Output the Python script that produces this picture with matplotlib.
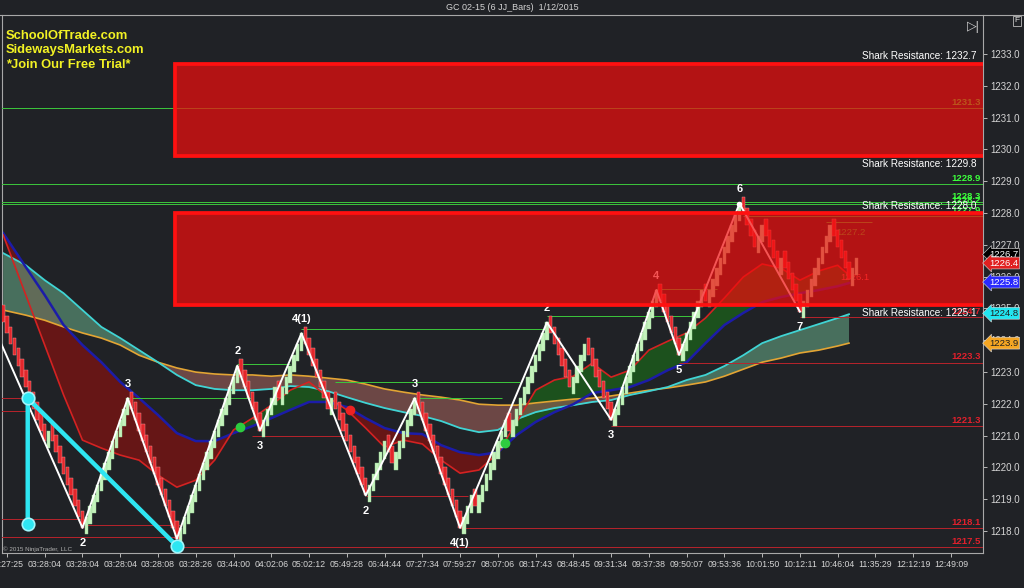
import numpy as np
import matplotlib
matplotlib.use("Agg")
import matplotlib.pyplot as plt
from matplotlib.patches import Rectangle
from matplotlib.transforms import blended_transform_factory

plt.rcParams["font.family"] = ["Liberation Sans", "DejaVu Sans"]

BG = "#202226"
TXT = "#d4d4d4"

# ---- JJ / renko bars: brick size and runs of bricks (+ up, - down)
BRICK = 0.34
FIRST_OPEN = 1224.9
FIRST_BAR = -1
RUNS = [-12, 1, -9, 12, -13, 16, -6, 4, -1, 6, -7, 1, -9, 5, -2, 6, -12, 3, -1, 8,
        -1, 10, -6, 4, -7, 12, -6, 6, -1, 9, -4, 2, -4, 1, -5, 8, -5, 2]

# ---- swing zigzag (bar numbers of the pivots) and their wave labels
ZZ_START = (-6, 1225.1)
ZZ_BARS = [20, 32, 45, 61, 67, 78, 95, 108, 120, 143, 160, 172, 178, 194, 210]
ZZ_LABELS = ["2", "3", "", "2", "3", "4(1)", "2", "3", "4(1)", "2", "3", "4", "5", "6", "7"]

# ---- moving averages, read at these bars
MA_IDX = [-1] + list(range(5, 221, 5)) + [223]
MA_RED = [1227.31, 1225.42, 1223.85, 1222.28, 1220.86, 1220.61, 1220.39, 1220.23, 1219.76,
          1219.38, 1219.60, 1220.23, 1221.18, 1221.55, 1221.96, 1222.43, 1222.69, 1222.21,
          1221.81, 1221.24, 1220.64, 1220.86, 1220.74, 1220.23, 1219.82, 1219.92, 1220.45,
          1221.43, 1222.43, 1222.75, 1222.87, 1223.28, 1222.84, 1223.06, 1223.69, 1223.97,
          1224.23, 1224.70, 1225.33, 1225.99, 1226.40, 1226.27, 1225.89, 1226.18, 1226.36,
          1226.05]
MA_BLUE = [1227.37, 1226.30, 1225.42, 1224.48, 1223.85, 1223.31, 1222.69, 1222.18, 1221.65,
           1221.08, 1220.83, 1220.83, 1221.08, 1221.30, 1221.55, 1221.81, 1222.06, 1222.06,
           1221.90, 1221.55, 1221.24, 1221.08, 1221.05, 1220.70, 1220.48, 1220.39, 1220.48,
           1221.02, 1221.43, 1221.74, 1221.99, 1222.34, 1222.43, 1222.53, 1222.75, 1223.06,
           1223.31, 1223.91, 1224.48, 1224.86, 1225.20, 1225.36, 1225.48, 1225.58, 1225.70,
           1225.80]
MA_TEAL = [1226.74, 1226.36, 1225.89, 1225.48, 1224.95, 1224.42, 1224.07, 1223.69, 1223.31,
           1222.91, 1222.59, 1222.47, 1222.43, 1222.43, 1222.47, 1222.56, 1222.53, 1222.40,
           1222.21, 1222.03, 1221.87, 1221.74, 1221.62, 1221.46, 1221.24, 1221.11, 1221.18,
           1221.52, 1221.74, 1221.87, 1221.96, 1222.06, 1222.12, 1222.28, 1222.40, 1222.53,
           1222.75, 1222.91, 1223.19, 1223.53, 1223.91, 1224.13, 1224.32, 1224.51, 1224.70,
           1224.82]
MA_ORANGE = [1224.95, 1224.79, 1224.63, 1224.42, 1224.23, 1224.07, 1223.85, 1223.53, 1223.31,
             1223.13, 1223.00, 1222.94, 1222.91, 1222.91, 1222.87, 1222.91, 1222.87, 1222.81,
             1222.75, 1222.62, 1222.47, 1222.37, 1222.28, 1222.21, 1222.12, 1221.99, 1221.96,
             1221.96, 1222.03, 1222.09, 1222.15, 1222.18, 1222.25, 1222.34, 1222.43, 1222.50,
             1222.59, 1222.69, 1222.87, 1223.09, 1223.31, 1223.44, 1223.60, 1223.69, 1223.82,
             1223.91]

# ---- resistance zones (low, high) and their start bar
ZONES = [(1229.8, 1232.7), (1225.1, 1228.0)]
ZONE_START = 44.5

# ---- horizontal levels: (price, from bar, to bar or None = right edge)
GREEN_LEVELS = [(1231.3, -2, None), (1228.9, -2, None), (1228.35, -2, None),
                (1228.28, -2, None), (1222.18, 32, 65), (1223.25, 61, 75),
                (1224.35, 78, 143), (1222.7, 87, 136), (1222.18, 108, 131),
                (1224.76, 143, 183), (1225.6, 172, 188), (1227.9, 195, None),
                (1227.72, 217, 229)]
RED_LEVELS = [(1224.73, 210, None), (1223.3, 178, None), (1221.3, 160, None),
              (1218.1, 120, None), (1217.5, 45, None), (1221.0, 65, 90),
              (1219.1, 95, 122), (1222.2, -2, 6), (1221.77, -2, 6),
              (1218.38, -2, 21), (1218.2, 21, 46), (1217.81, -2, 46)]
GREEN_TAGS = [("1231.3", 1231.3), ("1228.9", 1228.9), ("1228.3", 1228.35),
              ("1228.2", 1228.22), ("1227.9", 1227.9)]
RED_TAGS = [("1224.7", 1224.73), ("1223.3", 1223.3), ("1221.3", 1221.3),
            ("1218.1", 1218.1), ("1217.5", 1217.5)]

# ---- cyan pattern, signal dots
CYAN_IDX = [5.5, 5.5, 45]
CYAN_PRICE = [1218.22, 1222.18, 1217.53]
DOTS = [(61.7, 1221.27, "#2ecc40"), (90.8, 1221.81, "#ee2222"), (131.9, 1220.77, "#2ecc40")]

# ---- price markers on the axis
MARKERS = [("1226.7", 1226.7, "#000000", "white"), ("1226.4", 1226.43, "#e02020", "white"),
           ("1225.8", 1225.83, "#2a2aff", "white"), ("1224.8", 1224.85, "#22e5f0", "#202020"),
           ("1223.9", 1223.91, "#f5a623", "#202020")]

TIME_LABELS = ["03:27:25", "03:28:04", "03:28:04", "03:28:04", "03:28:08", "03:28:26",
               "03:44:00", "04:02:06", "05:02:12", "05:49:28", "06:44:44", "07:27:34",
               "07:59:27", "08:07:06", "08:17:43", "08:48:45", "09:31:34", "09:37:38",
               "09:50:07", "09:53:36", "10:01:50", "10:12:11", "10:46:04", "11:35:29",
               "12:12:19", "12:49:09"]

XMAX = 258.5

fig = plt.figure(figsize=(10.24, 5.88), dpi=100, facecolor=BG)
ax = fig.add_axes([0.002, 0.0595, 0.958, 0.915])
ax.set_facecolor(BG)
ax.set_xlim(-1.3, XMAX)
ax.set_ylim(1217.31, 1234.23)

# moving average bands
red = np.array(MA_RED)
blue = np.array(MA_BLUE)
teal = np.array(MA_TEAL)
orange = np.array(MA_ORANGE)
ax.fill_between(MA_IDX, red, blue, where=red >= blue, interpolate=True,
                color="#1c5a1c", alpha=0.85, lw=0, zorder=1)
ax.fill_between(MA_IDX, red, blue, where=red < blue, interpolate=True,
                color="#6e1515", alpha=0.9, lw=0, zorder=1)
ax.fill_between(MA_IDX, teal, orange, where=teal >= orange, interpolate=True,
                color="#5f9a7c", alpha=0.65, lw=0, zorder=1.5)
ax.fill_between(MA_IDX, teal, orange, where=teal < orange, interpolate=True,
                color="#a0605a", alpha=0.6, lw=0, zorder=1.5)
ax.plot(MA_IDX, orange, color="#e3a534", lw=1.2, zorder=2)
ax.plot(MA_IDX, teal, color="#40d4d4", lw=1.3, zorder=2)
ax.plot(MA_IDX, blue, color="#1c1ca8", lw=1.8, zorder=2)
ax.plot(MA_IDX, red, color="#d42222", lw=1.2, zorder=2)

# level lines and tags
for p, a, b in GREEN_LEVELS:
    ax.hlines(p, a, XMAX + 1 if b is None else b, color="#3cc83c", lw=0.7, zorder=3)
for p, a, b in RED_LEVELS:
    ax.hlines(p, a, XMAX + 1 if b is None else b, color="#b8242c", lw=0.7, zorder=3)
for t, p in GREEN_TAGS:
    ax.text(257.8, p + 0.04, t, color="#3cff3c", fontsize=6.8, fontweight="bold",
            ha="right", va="bottom", zorder=3)
for t, p in RED_TAGS:
    ax.text(257.8, p + 0.04, t, color="#e0202c", fontsize=6.8, fontweight="bold",
            ha="right", va="bottom", zorder=3)
ax.text(227.5, 1227.3, "1227.2", color="#39d039", fontsize=6.8, ha="right", zorder=3)
ax.text(228.5, 1225.9, "1226.1", color="#ff6060", fontsize=6.8, ha="right", zorder=3)

# bars (bodies overlap the previous bar a little, as JJ bars do)
closes, dirs = [], []
price = FIRST_OPEN
for run in RUNS:
    d = 1 if run > 0 else -1
    for _ in range(abs(run)):
        price += d * BRICK
        closes.append(price)
        dirs.append(d)
closes = np.array(closes)
dirs = np.array(dirs)
bar_x = FIRST_BAR + np.arange(len(closes))
body = 1.6 * BRICK
lows = np.where(dirs > 0, closes - body, closes)
up = dirs > 0
ax.bar(bar_x[up], body, bottom=lows[up], width=0.9, color="#c4f2bc",
       edgecolor="#9ad89a", lw=0.3, zorder=5)
ax.bar(bar_x[~up], body, bottom=lows[~up], width=0.9, color="#e3262b",
       edgecolor="#f5a0a0", lw=0.3, zorder=5)

# zigzag and wave labels
zz_bars = np.array(ZZ_BARS)
zz_x = [ZZ_START[0]] + list(bar_x[zz_bars - FIRST_BAR])
zz_y = [ZZ_START[1]] + list(closes[zz_bars - FIRST_BAR])
ax.plot(zz_x, zz_y, color="white", lw=1.4, zorder=6)
for i in range(1, len(zz_x)):
    lab = ZZ_LABELS[i - 1]
    if not lab:
        continue
    peak = zz_y[i] > zz_y[i - 1]
    ax.text(zz_x[i], zz_y[i] + (0.3 if peak else -0.32), lab, color="white",
            fontsize=8, fontweight="bold", ha="center",
            va="bottom" if peak else "top", zorder=7)
ax.plot(zz_x[-2], zz_y[-2], "o", color="white", ms=3, zorder=7)

# cyan pattern and dots
ax.plot(CYAN_IDX, CYAN_PRICE, color="#2ee6f2", lw=3.2, zorder=7, solid_capstyle="round")
ax.plot(CYAN_IDX, CYAN_PRICE, "o", color="#2ee6f2", ms=9, mec="#9ff6fb", mew=1.2, zorder=8)
for x, p, c in DOTS:
    ax.plot(x, p, "o", color=c, ms=6, zorder=8)

# resistance zones
for lo, hi in ZONES:
    ax.add_patch(Rectangle((ZONE_START, lo), 400, hi - lo, facecolor=(0.95, 0.05, 0.05, 0.7),
                           edgecolor="#ff1010", lw=2.7, zorder=10))
    ax.text(256.8, hi + 0.08, "Shark Resistance: %.1f" % hi, color="white", fontsize=7.2,
            ha="right", va="bottom", zorder=11)
    ax.text(256.8, lo - 0.1, "Shark Resistance: %.1f" % lo, color="white", fontsize=7.2,
            ha="right", va="top", zorder=11)

# axes styling
ax.set_yticks(np.arange(1218, 1234))
ax.set_yticklabels(["%.1f" % v for v in np.arange(1218, 1234)])
ax.yaxis.tick_right()
ax.set_xticks(np.arange(0, 260, 10))
ax.set_xticklabels(TIME_LABELS)
ax.tick_params(colors="#b8b8b8", labelcolor=TXT, labelsize=7, length=3, width=0.7, pad=2)
ax.tick_params(axis="x", labelsize=6.3)
for s in ax.spines.values():
    s.set_color("#a8a8a8")
    s.set_linewidth(0.8)
ax.spines["top"].set_visible(False)

tr = blended_transform_factory(ax.transAxes, ax.transData)
for t, p, fc, tc in MARKERS:
    ax.text(1.006, p, t, transform=tr, color=tc, fontsize=6.8, ha="left", va="center",
            clip_on=False, zorder=12,
            bbox=dict(boxstyle="larrow,pad=0.15", fc=fc, ec="#dddddd", lw=0.4))

# header and annotations
fig.add_artist(plt.Line2D([0, 1], [1 - 15 / 588, 1 - 15 / 588], color="#a8a8a8", lw=0.8))
fig.text(0.5, 1 - 7 / 588, "GC 02-15 (6 JJ_Bars)  1/12/2015", color=TXT, fontsize=6.5,
         ha="center", va="center")
brand = ["SchoolOfTrade.com", "SidewaysMarkets.com", "*Join Our Free Trial*"]
for i, t in enumerate(brand):
    fig.text(6 / 1024, 1 - (36 + 14.5 * i) / 588, t, color="#f2f224", fontsize=9.4,
             fontweight="bold", va="center")
fig.text(3 / 1024, 1 - 549 / 588, "\u00a9 2015 NinjaTrader, LLC", color="#b0b0b0",
         fontsize=4.5, va="center")
fig.text(973 / 1024, 1 - 27 / 588, "\u25b7|", color="#d0d0d0", fontsize=9, ha="center",
         va="center")
fig.text(1017 / 1024, 1 - 21 / 588, "F", color="#e0e0e0", fontsize=6, ha="center",
         va="center", bbox=dict(boxstyle="square,pad=0.15", fc="none", ec="#bbbbbb", lw=0.6))

fig.savefig("out.png", dpi=100, facecolor=BG)
